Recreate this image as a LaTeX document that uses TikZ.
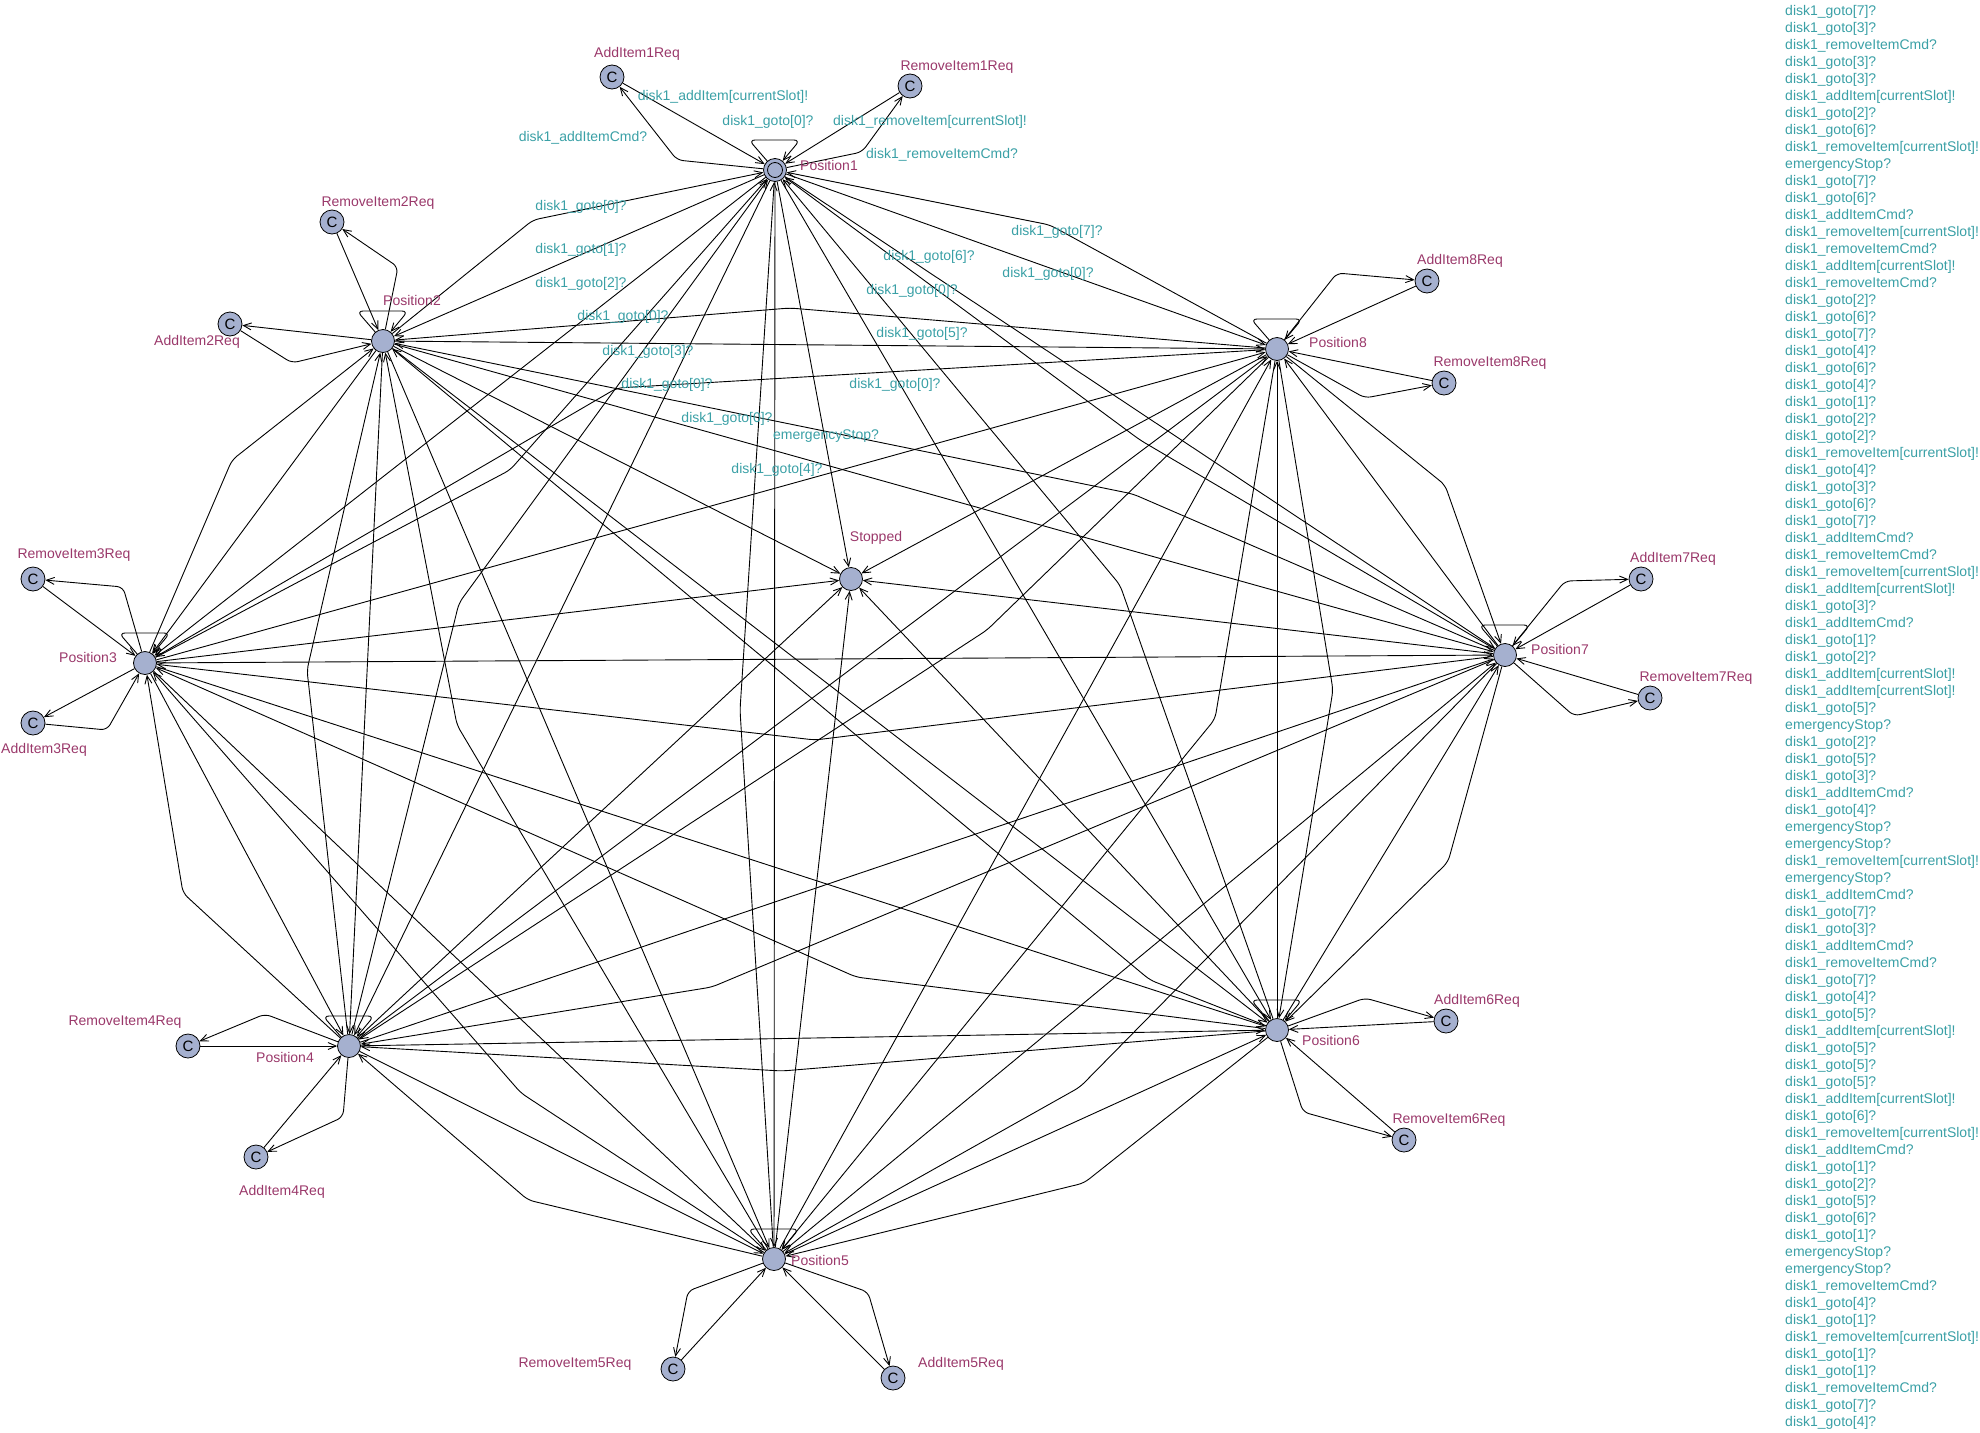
\documentclass[tikz,border=0pt]{standalone}
\usepackage{fontspec}
\setmainfont{Liberation Sans}
\usetikzlibrary{arrows.meta,calc}
\definecolor{locname}{RGB}{154,56,106}
\definecolor{synccol}{RGB}{58,160,166}
\definecolor{locfill}{RGB}{165,176,207}
\newcommand\LG[1]{disk1\_goto[#1]?}
\newcommand\LAC{disk1\_addItemCmd?}
\newcommand\LRC{disk1\_removeItemCmd?}
\newcommand\LAI{disk1\_addItem[currentSlot]!}
\newcommand\LRI{disk1\_removeItem[currentSlot]!}
\newcommand\LES{emergencyStop?}
\begin{document}
\begin{tikzpicture}[x=1pt,y=-1pt, font=\fontsize{14}{17}\selectfont,
  loc/.style={circle,draw=black,line width=0.8pt,fill=locfill,minimum size=23pt,inner sep=0pt},
  com/.style={loc,minimum size=24pt,font=\fontsize{15}{15}\selectfont},
  edge/.style={draw=black,line width=0.9pt,-{Straight Barb[length=8pt,width=7pt]},rounded corners=6pt},
  lname/.style={text=locname,inner sep=0pt},
  sync/.style={text=synccol,inner sep=0pt}]
\useasboundingbox (0,0) rectangle (1980,1432);

% main locations
\node[loc] (p1) at (775,170) {};
\node[circle,draw=black,line width=0.8pt,minimum size=15pt,inner sep=0pt] (p1in) at (p1) {};
\node[loc] (p2) at (383,341) {};
\node[loc] (p3) at (145,663) {};
\node[loc] (p4) at (349,1046) {};
\node[loc] (p5) at (774,1259) {};
\node[loc] (p6) at (1277,1030) {};
\node[loc] (p7) at (1505,655) {};
\node[loc] (p8) at (1277,349) {};
\node[loc] (st) at (851,579) {};

% committed locations
\node[com] (a1) at (612,77) {C};
\node[com] (r1) at (910,86) {C};
\node[com] (r2) at (332,222) {C};
\node[com] (a2) at (230,324) {C};
\node[com] (r3) at (33,579) {C};
\node[com] (a3) at (33,723) {C};
\node[com] (r4) at (188,1046) {C};
\node[com] (a4) at (256,1157) {C};
\node[com] (r5) at (673,1369) {C};
\node[com] (a5) at (893,1378) {C};
\node[com] (a6) at (1446,1021) {C};
\node[com] (r6) at (1404,1140) {C};
\node[com] (a7) at (1641,579) {C};
\node[com] (r7) at (1650,698) {C};
\node[com] (a8) at (1427,281) {C};
\node[com] (r8) at (1444,383) {C};

% edges between positions: straight one way, bent the other way
\foreach \a/\b/\nx/\ny in {1/2/533/220, 1/3/510/470, 1/4/459/603, 1/5/740/710,
    1/6/1120/585, 1/7/1140/440, 1/8/1050/225,
    2/3/232/460, 2/4/307/670, 2/5/457/725, 2/6/1150/980, 2/7/1133/494, 2/8/790/308,
    3/4/183/893, 3/5/521/1093, 3/6/856/977, 3/7/815/740, 3/8/617/388,
    4/5/528/1200, 4/6/782/1071, 4/7/712/987, 4/8/987/630,
    5/6/1084/1183, 5/7/1080/1087, 5/8/1215/719,
    6/7/1448/862, 6/8/1333/690, 7/8/1445/485} {
  \coordinate (n\a\b) at (\nx,\ny);
  \draw[edge] (p\a) -- (p\b);
  \draw[edge] (p\b) -- (n\a\b) -- (p\a);
}

% emergency stops
\foreach \a in {1,...,8} {\draw[edge] (p\a) -- (st);}

% self loops
\foreach \a in {1,...,8} {
  \coordinate (l\a a) at ($(p\a)+(-26,-30)$);
  \coordinate (l\a b) at ($(p\a)+(25,-30)$);
  \draw[edge] (p\a) -- (l\a a) -- (l\a b) -- (p\a);
}

% request edges
\foreach \p/\q/\nx/\ny in {1/a1/677/160, 1/r1/862/152, 2/r2/398/267,
    3/r3/123/587, 4/r4/265/1014, 4/a4/343/1117, 5/r5/688/1291, 5/a5/868/1292,
    6/a6/1365/998, 6/r6/1303/1112, 7/a7/1565/581, 7/r7/1574/716,
    8/a8/1337/273, 8/r8/1365/398} {
  \coordinate (m\q) at (\nx,\ny);
  \draw[edge] (p\p) -- (m\q) -- (\q);
  \draw[edge] (\q) -- (p\p);
}
\coordinate (ma2) at (292,363);
\draw[edge] (a2) -- (ma2) -- (p2);
\draw[edge] (p2) -- (a2);
\coordinate (ma3) at (107,730);
\draw[edge] (a3) -- (ma3) -- (p3);
\draw[edge] (p3) -- (a3);

% location names
\node[lname,anchor=west] (t1) at (800,165) {Position1};
\node[lname] (t2) at (412,300) {Position2};
\node[lname] (t3) at (88,657) {Position3};
\node[lname] (t4) at (285,1057) {Position4};
\node[lname] (t5) at (820,1260) {Position5};
\node[lname,anchor=west] (t6) at (1302,1040) {Position6};
\node[lname,anchor=west] (t7) at (1531,649) {Position7};
\node[lname,anchor=west] (t8) at (1309,342) {Position8};
\node[lname] (tst) at (876,538) {Stopped};
\node[lname] (ta1) at (637,54) {AddItem1Req};
\node[lname] (tr1) at (957,67) {RemoveItem1Req};
\node[lname] (tr2) at (378,203) {RemoveItem2Req};
\node[lname] (ta2) at (197,342) {AddItem2Req};
\node[lname] (tr3) at (74,555) {RemoveItem3Req};
\node[lname] (ta3) at (44,750) {AddItem3Req};
\node[lname] (tr4) at (125,1022) {RemoveItem4Req};
\node[lname] (ta4) at (282,1192) {AddItem4Req};
\node[lname] (tr5) at (575,1364) {RemoveItem5Req};
\node[lname] (ta5) at (961,1364) {AddItem5Req};
\node[lname] (ta6) at (1477,1001) {AddItem6Req};
\node[lname] (tr6) at (1449,1120) {RemoveItem6Req};
\node[lname] (ta7) at (1673,559) {AddItem7Req};
\node[lname] (tr7) at (1696,678) {RemoveItem7Req};
\node[lname] (ta8) at (1460,261) {AddItem8Req};
\node[lname] (tr8) at (1490,363) {RemoveItem8Req};

% edge labels near the graph
\node[sync] (s1) at (723,97) {\LAI};
\node[sync] (s2) at (768,122) {\LG{0}};
\node[sync] (s3) at (930,122) {\LRI};
\node[sync] (s4) at (583,138) {\LAC};
\node[sync] (s5) at (942,155) {\LRC};
\node[sync] (s6) at (581,207) {\LG{0}};
\node[sync] (s7) at (581,250) {\LG{1}};
\node[sync] (s8) at (581,284) {\LG{2}};
\node[sync] (s9) at (623,317) {\LG{0}};
\node[sync] (s10) at (648,352) {\LG{3}};
\node[sync] (s11) at (667,385) {\LG{0}};
\node[sync] (s12) at (727,419) {\LG{0}};
\node[sync] (s13) at (826,436) {\LES};
\node[sync] (s14) at (777,470) {\LG{4}};
\node[sync] (s15) at (1057,232) {\LG{7}};
\node[sync] (s16) at (929,257) {\LG{6}};
\node[sync] (s17) at (1048,274) {\LG{0}};
\node[sync] (s18) at (912,291) {\LG{0}};
\node[sync] (s19) at (922,334) {\LG{5}};
\node[sync] (s20) at (895,385) {\LG{0}};

% list of remaining labels
\foreach \t [count=\i from 0] in {{\LG{7}},{\LG{3}},\LRC,{\LG{3}},{\LG{3}},\LAI,{\LG{2}},{\LG{6}},\LRI,\LES,
  {\LG{7}},{\LG{6}},\LAC,\LRI,\LRC,\LAI,\LRC,{\LG{2}},{\LG{6}},{\LG{7}},
  {\LG{4}},{\LG{6}},{\LG{4}},{\LG{1}},{\LG{2}},{\LG{2}},\LRI,{\LG{4}},{\LG{3}},{\LG{6}},
  {\LG{7}},\LAC,\LRC,\LRI,\LAI,{\LG{3}},\LAC,{\LG{1}},{\LG{2}},\LAI,
  \LAI,{\LG{5}},\LES,{\LG{2}},{\LG{5}},{\LG{3}},\LAC,{\LG{4}},\LES,\LES,
  \LRI,\LES,\LAC,{\LG{7}},{\LG{3}},\LAC,\LRC,{\LG{7}},{\LG{4}},{\LG{5}},
  \LAI,{\LG{5}},{\LG{5}},{\LG{5}},\LAI,{\LG{6}},\LRI,\LAC,{\LG{1}},{\LG{2}},
  {\LG{5}},{\LG{6}},{\LG{1}},\LES,\LES,\LRC,{\LG{4}},{\LG{1}},\LRI,{\LG{1}},
  {\LG{1}},\LRC,{\LG{7}},{\LG{4}}} {
  \node[sync,anchor=base west] (list\i) at (1785,{15+17*\i}) {\t};
}
\end{tikzpicture}
\end{document}
